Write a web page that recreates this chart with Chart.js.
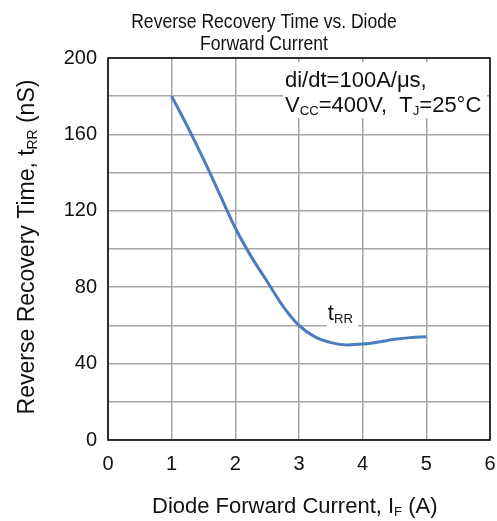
<!DOCTYPE html>
<html>
<head>
<meta charset="utf-8">
<script src="https://cdn.jsdelivr.net/npm/chart.js@4/dist/chart.umd.min.js"></script>
<style>
  html, body { margin: 0; padding: 0; background: #fff; }
  #wrap { width: 497px; height: 521px; }
</style>
</head>
<body>
<div id="wrap"><canvas id="trrChart"></canvas></div>
<script>
// Reverse recovery time vs. diode forward current
const currentA = [1, 1.25, 1.5, 1.75, 2, 2.25, 2.5, 2.75, 3, 3.25, 3.5, 3.75, 4, 4.25, 4.5, 4.75, 5];
const trrNs = [180, 164, 147, 129, 111, 96, 83, 70, 60, 54, 51, 49.8, 50.2, 51.3, 52.7, 53.6, 54];
const xTicks = [0, 1, 2, 3, 4, 5, 6];
const yLabelStep = 40;

const FONT = '"Liberation Sans", Arial, sans-serif';
const TEXT = '#111';
const SUB = 0.6;

// draw text pieces, some as subscripts: [[text, isSub], ...]
function richWidth(ctx, parts, size) {
    let w = 0;
    parts.forEach(p => {
        ctx.font = (p[1] ? size * SUB : size) + 'px ' + FONT;
        w += ctx.measureText(p[0]).width;
    });
    return w;
}
function drawRich(ctx, parts, x, y, size) {
    let cx = x;
    ctx.textAlign = 'left';
    ctx.textBaseline = 'alphabetic';
    parts.forEach(p => {
        ctx.font = (p[1] ? size * SUB : size) + 'px ' + FONT;
        ctx.fillText(p[0], cx, p[1] ? y + size * 0.15 : y);
        cx += ctx.measureText(p[0]).width;
    });
}

const textPlugin = {
    id: 'textPlugin',
    afterDraw(chart) {
        const ctx = chart.ctx;
        const a = chart.chartArea;
        const xs = chart.scales.x, ys = chart.scales.y;
        ctx.save();
        ctx.fillStyle = TEXT;

        // title (a little narrow in the original)
        ctx.save();
        ctx.translate(264, 0);
        ctx.scale(0.9, 1);
        ctx.font = '19.5px ' + FONT;
        ctx.textAlign = 'center';
        ctx.textBaseline = 'alphabetic';
        ctx.fillText('Reverse Recovery Time vs. Diode', 0, 28);
        ctx.fillText('Forward Current', 0, 50);
        ctx.restore();

        // x axis title
        const xt = [['Diode Forward Current, I', false], ['F', true], [' (A)', false]];
        drawRich(ctx, xt, 152, 513, 22);

        // y axis title
        const yt = [['Reverse Recovery Time, t', false], ['RR', true], [' (nS)', false]];
        ctx.save();
        ctx.translate(34, 247);
        ctx.rotate(-Math.PI / 2);
        drawRich(ctx, yt, -richWidth(ctx, yt, 23) / 2, 0, 23);
        ctx.restore();

        // condition box
        const l1 = [['di/dt=100A/\u03bcs,', false]];
        const l2 = [['V', false], ['CC', true], ['=400V,  T', false], ['J', true], ['=25\u00b0C', false]];
        const bx = 283;
        ctx.fillStyle = '#fff';
        ctx.fillRect(bx, a.top + 4, a.right - bx - 3, 56);
        ctx.fillStyle = TEXT;
        drawRich(ctx, l1, bx + 2, a.top + 28.5, 22);
        drawRich(ctx, l2, bx + 2, a.top + 53.5, 22);

        // curve label
        const lx = xs.getPixelForValue(3.5) - 3, ly = ys.getPixelForValue(60);
        const lbl = [['t', false], ['RR', true]];
        const lw = richWidth(ctx, lbl, 22);
        ctx.fillStyle = '#fff';
        ctx.fillRect(lx - 1, ly - 18, lw + 6, 20);
        ctx.fillStyle = TEXT;
        drawRich(ctx, lbl, lx, ly - 5.5, 22);

        // frame
        ctx.strokeStyle = '#000';
        ctx.lineWidth = 1.5;
        ctx.strokeRect(a.left, a.top, a.right - a.left, a.bottom - a.top);
        ctx.restore();
    }
};

new Chart(document.getElementById('trrChart'), {
    type: 'line',
    data: {
        datasets: [{
            label: 'tRR',
            data: currentA.map((x, i) => ({ x: x, y: trrNs[i] })),
            borderColor: '#4a7dbf',
            borderWidth: 3,
            pointRadius: 0,
            fill: false,
            cubicInterpolationMode: 'monotone'
        }]
    },
    options: {
        responsive: true,
        maintainAspectRatio: false,
        animation: false,
        layout: { padding: { top: 58, right: 7, left: 0, bottom: 0 } },
        plugins: {
            legend: { display: false },
            tooltip: { enabled: false },
            title: { display: false }
        },
        scales: {
            x: {
                type: 'linear',
                min: xTicks[0],
                max: xTicks[xTicks.length - 1],
                afterBuildTicks: s => { s.ticks = xTicks.map(v => ({ value: v })); },
                afterFit: s => { s.height = 81; s.paddingLeft = 0; s.paddingRight = 0; },
                grid: { color: '#a6a6a6', lineWidth: 1.5, drawTicks: false },
                border: { display: false },
                ticks: { color: TEXT, padding: 12, font: { size: 20, family: FONT } }
            },
            y: {
                min: 0,
                max: 200,
                afterFit: s => { s.width = 108; s.paddingTop = 0; s.paddingBottom = 0; },
                grid: { color: '#a6a6a6', lineWidth: 1.5, drawTicks: false },
                border: { display: false },
                ticks: {
                    stepSize: 20,
                    color: TEXT,
                    padding: 11,
                    font: { size: 20, family: FONT },
                    callback: v => (v % yLabelStep === 0 ? v : '')
                }
            }
        }
    },
    plugins: [textPlugin]
});
</script>
</body>
</html>
